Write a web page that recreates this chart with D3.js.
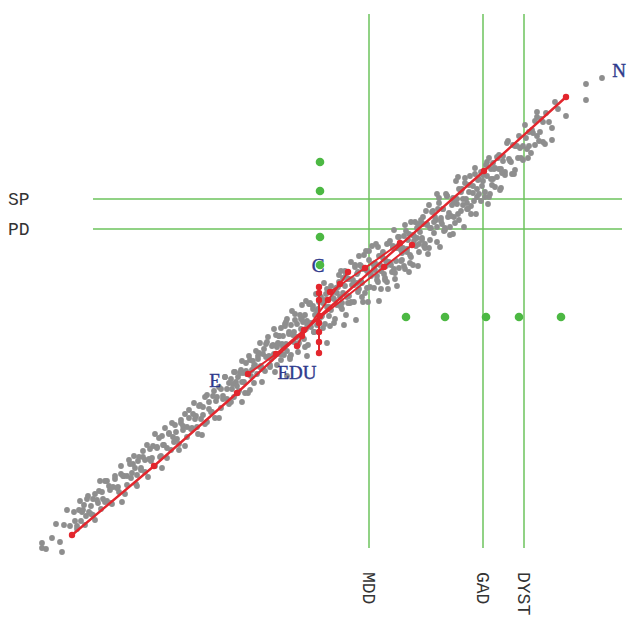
<!DOCTYPE html>
<html>
<head>
<meta charset="utf-8">
<script src="https://cdn.jsdelivr.net/npm/d3@7"></script>
<style>
  body { margin: 0; background: #fff; }
  svg { display: block; }
</style>
</head>
<body>
<svg id="chart" width="627" height="621"></svg>
<script>
// individual scores (gray cloud)
var cloud = [
  [-2.80,-2.27],[-2.76,-2.33],[-2.70,-2.22],[-2.66,-2.08],[-2.62,-2.26],[-2.58,-2.09],[-2.55,-1.94],[-2.52,-2.10],
  [-2.48,-1.96],[-2.45,-2.10],[-2.42,-1.85],[-2.40,-1.96],[-2.80,-2.32],[-2.60,-2.36],
  [-2.38,-1.89],[-2.36,-2.00],[-2.34,-1.80],[-2.31,-1.90],[-2.29,-1.99],[-2.27,-1.78],[-2.24,-1.87],[-2.22,-1.65],
  [-2.20,-1.76],[-2.17,-1.86],[-2.15,-1.65],[-2.12,-1.74],[-2.10,-1.88],[-2.07,-1.63],[-2.04,-1.71],[-2.01,-1.50],
  [-1.98,-1.60],[-1.95,-1.69],[-1.92,-1.48],
  [-1.90,-1.57],[-1.88,-1.40],[-1.86,-1.68],[-1.84,-1.45],[-1.81,-1.54],[-1.79,-1.35],[-1.77,-1.44],[-1.74,-1.61],
  [-1.72,-1.33],[-1.70,-1.42],[-1.67,-1.18],[-1.65,-1.32],[-1.62,-1.41],[-1.60,-1.20],[-1.58,-1.29],[-1.55,-1.42],
  [-1.53,-1.18],[-1.50,-1.07],[-1.48,-1.26],[-1.46,-1.16],[-1.43,-1.34],[-1.41,-1.04],
  [-1.39,-1.14],[-1.37,-0.98],[-1.35,-1.21],[-1.33,-1.02],[-1.30,-1.12],[-1.28,-0.87],[-1.26,-1.00],[-1.24,-1.18],
  [-1.22,-0.89],[-1.19,-0.99],[-1.17,-0.81],[-1.15,-1.06],[-1.13,-0.86],[-1.10,-0.96],[-1.08,-0.75],[-1.06,-0.85],
  [-1.03,-1.02],[-1.01,-0.73],[-0.99,-0.83],[-0.97,-0.61],[-0.95,-0.73],[-0.93,-0.88],[-0.91,-0.63],[-0.90,-0.73],
  [-0.88,-0.56],[-0.86,-0.66],[-0.84,-0.77],[-0.82,-0.57],[-0.80,-0.45],[-0.78,-0.66],[-0.76,-0.55],[-0.74,-0.77],
  [-0.72,-0.44],[-0.70,-0.54],[-0.68,-0.67],[-0.66,-0.35],[-0.64,-0.43],[-0.62,-0.51],[-0.60,-0.66],[-0.58,-0.33],
  [-0.56,-0.41],[-0.54,-0.21],[-0.52,-0.49],[-0.50,-0.30],[-0.48,-0.38],[-0.46,-0.19],[-0.45,-0.49],[-0.44,-0.28],
  [-0.43,-0.20],[-0.42,-0.38],[-0.41,-0.12],[-0.40,-0.28],
  [-0.39,-0.20],[-0.38,-0.39],[-0.37,-0.10],[-0.36,-0.28],[-0.35,-0.03],[-0.33,-0.18],[-0.32,-0.41],[-0.31,-0.09],
  [-0.29,-0.19],[-0.28,-0.26],[-0.27,0.02],[-0.25,-0.08],[-0.24,-0.36],[-0.22,0.01],[-0.21,-0.13],[-0.20,0.11],
  [-0.18,-0.23],[-0.17,0.01],[-0.15,-0.05],[-0.14,-0.29],[-0.12,0.13],[-0.11,-0.07],[-0.09,0.10],[-0.08,-0.16],
  [-0.06,0.22],[-0.05,0.05],[-0.03,-0.06],[-0.01,0.19],[0.01,-0.12],[0.03,0.16],[0.05,0.09],[0.07,0.00],[0.09,0.30],
  [0.11,0.18],[0.12,-0.07],[0.14,0.28],[0.15,0.11],[0.17,0.41],[0.18,0.19],[0.20,0.07],[0.21,0.38],[0.23,0.30],
  [0.24,0.01],[0.26,0.37],[0.27,0.20],[0.29,0.54],[0.30,0.31],[0.32,0.14],[0.33,0.51],[0.35,0.42],[0.36,0.24],
  [0.38,0.51],[0.39,0.35],[0.41,0.14],[0.42,0.61],[0.44,0.47],[0.45,0.28],[0.47,0.56],[0.49,0.40],[0.50,0.70],
  [0.52,0.28],[0.53,0.53],[0.55,0.40],[0.56,0.69],[0.58,0.51],[0.59,0.27],
  [0.61,0.64],[0.62,0.42],[0.64,0.55],[0.65,0.34],[0.67,0.73],[0.68,0.53],[0.70,0.44],[0.71,0.68],[0.73,0.37],
  [0.74,0.55],[0.76,0.79],[0.77,0.48],[0.79,0.66],[0.80,0.56],[0.82,0.80],[0.83,0.47],[0.85,0.67],[0.86,0.76],
  [0.88,0.61],[0.89,0.94],[0.91,0.51],[0.92,0.75],[0.94,0.70],[0.95,0.88],[0.97,0.64],[0.98,0.84],[1.00,0.78],
  [1.01,0.99],[1.03,0.72],[1.05,0.92],[1.07,0.68],[1.08,0.88],
  [1.10,1.04],[1.12,0.83],[1.14,0.96],[1.15,0.74],[1.17,1.18],[1.19,0.95],[1.21,1.07],[1.23,0.86],[1.25,1.20],
  [1.26,0.99],[1.28,0.81],[1.30,1.11],[1.32,0.99],[1.34,1.35],[1.35,1.12],[1.37,0.96],[1.39,1.24],[1.41,1.11],
  [1.43,1.33],[1.45,1.07],[1.47,1.24],[1.49,1.02],[1.51,1.23],[1.53,1.48],[1.55,1.19],[1.57,1.37],[1.59,1.15],
  [1.61,1.35],[1.63,1.24],[1.65,1.54],[1.67,1.19],[1.69,1.47],[1.71,1.37],[1.73,1.29],[1.75,1.59],[1.77,1.47],
  [1.79,1.28],[1.81,1.55],[1.83,1.44],[1.86,1.75],[1.88,1.55],[1.90,1.42],[1.93,1.70],[1.96,1.58],[1.98,1.68],
  [2.01,1.56],[2.04,1.78],[2.07,1.70],
  [2.10,1.86],[2.13,1.71],[2.15,1.99],[2.18,1.84],[2.21,1.74],[2.24,2.03],[2.27,1.94],[2.30,1.88],[2.33,2.14],
  [2.36,2.07],[2.64,2.32],[2.80,2.38],[2.64,2.16],[2.44,2.00],[2.30,1.76],[2.15,2.04]
];

var cloudCore = [
  [-2.47,-2.05],[-2.45,-2.13],[-2.43,-1.94],[-2.41,-2.05],[-2.39,-1.94],[-2.37,-2.09],[-2.35,-1.83],[-2.33,-1.96],
  [-2.31,-1.98],[-2.29,-1.83],[-2.27,-2.04],[-2.25,-1.84],[-2.23,-1.75],[-2.21,-1.93],[-2.19,-1.83],[-2.17,-1.65],
  [-2.15,-1.85],[-2.13,-1.70],[-2.11,-1.87],[-2.09,-1.71],[-2.07,-1.60],[-2.05,-1.72],[-2.03,-1.76],[-2.01,-1.58],
  [-1.99,-1.60],[-1.97,-1.78],[-1.95,-1.60],[-1.93,-1.44],[-1.91,-1.62],[-1.89,-1.48],[-1.87,-1.52],[-1.85,-1.59],
  [-1.83,-1.41],[-1.81,-1.52],[-1.79,-1.41],[-1.77,-1.56],[-1.75,-1.29],[-1.73,-1.43],[-1.71,-1.45],[-1.69,-1.30],
  [-1.67,-1.50],[-1.65,-1.31],[-1.63,-1.22],[-1.61,-1.40],[-1.59,-1.29],[-1.57,-1.12],[-1.55,-1.32],[-1.53,-1.17],
  [-1.51,-1.34],[-1.49,-1.21],[-1.47,-1.09],[-1.45,-1.23],[-1.43,-1.28],[-1.41,-1.07],[-1.39,-1.10],[-1.37,-1.30],
  [-1.35,-1.11],[-1.33,-0.94],[-1.31,-1.13],[-1.29,-0.98],[-1.27,-1.03],[-1.25,-1.11],[-1.23,-0.90],[-1.21,-1.03],
  [-1.19,-0.91],[-1.17,-1.08],[-1.15,-0.79],[-1.13,-0.93],[-1.11,-0.96],[-1.09,-0.80],[-1.07,-1.02],[-1.05,-0.81],
  [-1.03,-0.71],[-1.01,-0.92],[-0.99,-0.80],[-0.97,-0.61],[-0.95,-0.83],[-0.93,-0.67],[-0.91,-0.86],[-0.89,-0.68],
  [-0.87,-0.56],[-0.85,-0.70],[-0.83,-0.75],[-0.81,-0.54],[-0.79,-0.57],[-0.77,-0.77],[-0.75,-0.58],[-0.73,-0.40],
  [-0.71,-0.60],[-0.69,-0.45],[-0.67,-0.49],[-0.65,-0.58],[-0.63,-0.37],[-0.61,-0.50],[-0.59,-0.38],[-0.57,-0.55],
  [-0.55,-0.26],[-0.53,-0.40],[-0.51,-0.43],[-0.49,-0.29],[-0.47,-0.56],[-0.45,-0.31],[-0.43,-0.20],[-0.41,-0.44],
  [-0.39,-0.31],[-0.37,-0.08],[-0.35,-0.35],[-0.33,-0.16],[-0.31,-0.39],[-0.29,-0.18],[-0.27,-0.04],[-0.25,-0.21],
  [-0.23,-0.27],[-0.21,-0.03],[-0.19,-0.06],[-0.17,-0.31],[-0.15,-0.08],[-0.13,0.12],[-0.11,-0.11],[-0.09,0.07],
  [-0.07,0.01],[-0.05,-0.09],[-0.03,0.14],[-0.01,-0.01],[0.01,0.13],[0.03,-0.08],[0.05,0.27],[0.07,0.09],
  [0.09,0.06],[0.11,0.24],[0.13,-0.03],[0.15,0.23],[0.17,0.34],[0.19,0.09],[0.21,0.23],[0.23,0.45],
  [0.25,0.19],[0.27,0.37],[0.29,0.14],[0.31,0.36],[0.33,0.49],[0.35,0.33],[0.37,0.27],[0.39,0.50],
  [0.41,0.47],[0.43,0.23],[0.45,0.45],[0.47,0.65],[0.49,0.42],[0.51,0.52],[0.53,0.46],[0.55,0.36],
  [0.57,0.60],[0.59,0.45],[0.61,0.58],[0.63,0.38],[0.65,0.72],[0.67,0.54],[0.69,0.51],[0.71,0.70],
  [0.73,0.43],[0.75,0.68],[0.77,0.79],[0.79,0.55],[0.81,0.68],[0.83,0.91],[0.85,0.64],[0.87,0.82],
  [0.89,0.59],[0.91,0.81],[0.93,0.94],[0.95,0.78],[0.97,0.72],[0.99,0.96],[1.01,0.92],[1.03,0.68],
  [1.05,0.91],[1.07,1.11],[1.09,0.88],[1.11,1.05],[1.13,0.99],[1.15,0.89],[1.17,1.13],[1.19,0.98],
  [1.21,1.07],[1.23,0.88],[1.25,1.20],[1.27,1.03],[1.29,1.00],[1.31,1.18],[1.33,0.93],[1.35,1.17],
  [1.37,1.27],[1.39,1.05],[1.41,1.17],[1.43,1.38],[1.45,1.13],[1.47,1.31],[1.49,1.10],[1.51,1.30],
  [1.53,1.42],[1.55,1.27],[1.57,1.22],[1.59,1.44],[1.61,1.41],[1.63,1.19],[1.65,1.40],[1.67,1.58],
  [1.69,1.37],[1.71,1.53],[1.73,1.48],[1.75,1.39],[1.77,1.61],[1.79,1.47],[1.81,1.60],[1.83,1.41],
  [1.85,1.73],[1.87,1.57],[1.89,1.54],[1.91,1.71],[1.93,1.46],[1.95,1.70],[1.97,1.80],[1.99,1.58],
  [2.01,1.70],[2.03,1.91],[2.05,1.67],[2.07,1.84],[2.09,1.63],[2.11,1.83],[2.13,1.95],[2.15,1.80],
  [2.17,1.75],[2.19,1.97],[2.21,1.94],[2.23,1.72]
];

var cloudMid = [
  [-0.88,-0.81],[-0.84,-0.61],[-0.80,-0.66],[-0.76,-0.47],[-0.72,-0.74],[-0.68,-0.50],[-0.64,-0.40],[-0.60,-0.53],
  [-0.56,-0.28],[-0.52,-0.51],[-0.48,-0.40],[-0.44,-0.27],[-0.40,-0.38],[-0.36,-0.06],[-0.32,-0.43],[-0.28,-0.16],
  [-0.24,-0.29],[-0.20,-0.02],[-0.16,-0.13],[-0.12,0.12],[-0.08,-0.16],[-0.04,0.07],[0.00,0.00],[0.04,0.22],
  [0.08,-0.10],[0.12,0.17],[0.16,0.29],[0.20,0.13],[0.24,0.42],[0.28,0.13],[0.32,0.31],[0.36,0.44],
  [0.40,0.33],[0.44,0.65],[0.48,0.29],[0.52,0.47],[0.56,0.34],[0.60,0.61],[0.64,0.50],[0.68,0.75],
  [0.72,0.47],[0.76,0.70],[0.80,0.63],[0.84,0.85],[0.88,0.53],[0.92,0.80],[0.96,0.92],[1.00,0.76],
  [1.04,1.05],[1.08,0.76],[1.12,0.94],[1.16,1.07],[1.20,0.92],[1.24,1.22],[1.28,0.89],[1.32,1.14],
  [1.36,1.02],[1.40,1.27],[1.44,1.17],[1.48,1.40],[1.52,1.15],[1.56,1.36],[1.60,1.30],[1.64,1.51],
  [1.68,1.22],[1.72,1.47],[1.76,1.58],[1.80,1.43]
];

var cloudEdge = [
  [-0.35,-0.60],[-0.15,-0.40],[0.05,-0.27],[0.22,-0.09],[0.34,-0.04],[0.46,0.14],[0.57,0.15],[0.66,0.27],
  [0.75,0.30],[0.87,0.44],[0.96,0.50],[1.06,0.62],[1.18,0.69],[1.31,0.82],[1.42,0.89],[1.54,1.02],
  [1.66,1.12],[1.78,1.26],[1.92,1.42],[2.06,1.58],
  [-0.62,-0.27],[-0.48,-0.13],[-0.30,0.05],[-0.16,0.15],[0.02,0.33],[0.19,0.45],[0.37,0.60],[0.54,0.72],
  [0.72,0.86],[1.15,1.22],[1.36,1.39],
  [-2.00,-1.86],[-1.60,-1.52],[-1.20,-1.19],[-0.80,-0.86],[-1.85,-1.70],
  [0.26,0.13],[0.40,0.19],[0.63,0.36],[0.82,0.50],[1.02,0.70],[1.22,0.85],[1.46,1.07],[1.70,1.31]
];

// red loading paths
var pathN = [[-2.50,-2.19],[-1.68,-1.50],[-0.85,-0.77],[-0.02,0.00],[1.62,1.45],[2.44,2.19]];
var pathEDU = [[-0.74,-0.58],[-0.46,-0.38],[-0.18,-0.14],[0.62,0.49],[0.90,0.71]];
var pathSteep = [[-0.25,-0.30],[-0.20,-0.20],[0.06,0.16],[0.18,0.32],[0.26,0.44]];
var pathUpper = [[0.08,0.24],[0.43,0.48],[0.78,0.73]];
var pathC = [[-0.03,0.29],[-0.03,0.23],[-0.03,0.16],[-0.03,-0.07],[-0.03,-0.16],[-0.03,-0.26],[-0.03,-0.37]];

// diagnosis lines
var vNames = ["MDD", "GAD", "DYST"];
var vValues = [0.47, 1.61, 2.02];
var hNames = ["SP", "PD"];
var hValues = [1.17, 0.87];

// green markers
var colDotsY = [1.54, 1.25, 0.79, 0.51];
var rowDotsX = [0.84, 1.23, 1.64, 1.97, 2.39];

// trait labels
var traitNames = ["N", "C", "E", "EDU"];
var traitX = [2.97, -0.04, -1.07, -0.25];
var traitY = [2.46, 0.51, -0.64, -0.56];

var svg = d3.select('#chart');
var x = d3.scaleLinear().domain([-3, 3]).range([22, 622]);
var y = d3.scaleLinear().domain([-3, 3]).range([616, 16]);

var green = '#6cc35c';

// green lines
svg.selectAll('line.v').data(vValues).enter().append('line')
  .attr('x1', function(d){ return x(d); }).attr('x2', function(d){ return x(d); })
  .attr('y1', y(3.02)).attr('y2', y(-2.32))
  .attr('stroke', green).attr('stroke-width', 1.5);

svg.selectAll('line.h').data(hValues).enter().append('line')
  .attr('x1', x(-2.29)).attr('x2', x(3.0))
  .attr('y1', function(d){ return y(d); }).attr('y2', function(d){ return y(d); })
  .attr('stroke', green).attr('stroke-width', 1.5);

// gray cloud
svg.append('g').selectAll('circle').data(cloud.concat(cloudCore, cloudMid, cloudEdge)).enter().append('circle')
  .attr('cx', function(d){ return x(d[0]); })
  .attr('cy', function(d){ return y(d[1]); })
  .attr('r', 2.9)
  .attr('fill', '#8e8e8e');

// red paths
var red = '#e3262d';
var line = d3.line().x(function(d){ return x(d[0]); }).y(function(d){ return y(d[1]); });
[pathN, pathEDU, pathSteep, pathUpper, pathC].forEach(function(p, i) {
  svg.append('path').datum(p)
    .attr('d', line)
    .attr('fill', 'none')
    .attr('stroke', red)
    .attr('stroke-width', i == 0 ? 2.4 : 2);
  svg.append('g').selectAll('circle').data(p).enter().append('circle')
    .attr('cx', function(d){ return x(d[0]); })
    .attr('cy', function(d){ return y(d[1]); })
    .attr('r', 3.2)
    .attr('fill', red);
});

// trait labels
svg.selectAll('text.trait').data(traitNames).enter().append('text')
  .attr('x', function(d, i){ return x(traitX[i]); })
  .attr('y', function(d, i){ return y(traitY[i]); })
  .attr('dy', '0.35em')
  .attr('text-anchor', 'middle')
  .attr('font-family', 'Liberation Serif, serif')
  .attr('font-size', 19)
  .attr('fill', '#2e3a8c')
  .attr('stroke', '#2e3a8c')
  .attr('stroke-width', 0.4)
  .text(function(d){ return d; });

// green dots
svg.selectAll('circle.col').data(colDotsY).enter().append('circle')
  .attr('cx', x(-0.02))
  .attr('cy', function(d){ return y(d); })
  .attr('r', 4.3)
  .attr('fill', '#4cb843');
svg.selectAll('circle.row').data(rowDotsX).enter().append('circle')
  .attr('cx', function(d){ return x(d); })
  .attr('cy', y(-0.01))
  .attr('r', 4.3)
  .attr('fill', '#4cb843');

// line labels
svg.selectAll('text.h').data(hNames).enter().append('text')
  .attr('x', 8)
  .attr('y', function(d, i){ return y(hValues[i]); })
  .attr('dy', '0.35em')
  .attr('font-family', 'Liberation Mono, monospace')
  .attr('font-size', 18)
  .attr('fill', '#333')
  .text(function(d){ return d; });

svg.selectAll('text.v').data(vNames).enter().append('text')
  .attr('transform', function(d, i){ return 'translate(' + (x(vValues[i]) - 6) + ',' + 572 + ') rotate(90)'; })
  .attr('font-family', 'Liberation Mono, monospace')
  .attr('font-size', 18)
  .attr('fill', '#333')
  .text(function(d){ return d; });
</script>
</body>
</html>
